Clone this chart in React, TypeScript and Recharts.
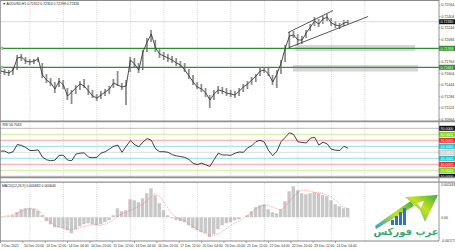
import {
  ComposedChart,
  Bar,
  Line,
  XAxis,
  YAxis,
  ReferenceLine,
  ReferenceArea,
  ReferenceDot,
} from 'recharts'

// hour index of each sampled bar (every 3rd H1 bar)
const hours = [
  0, 3, 6, 9, 12, 15, 18, 21, 24, 27, 30, 33, 36, 39, 42, 45, 48, 51, 54, 57, 60, 63, 66, 69, 72, 75, 78, 81,
  84, 87, 90, 93, 96, 99, 102, 105, 108, 111, 114, 117, 120, 123, 126, 129, 132, 135, 138, 141, 144, 147, 150,
  153, 156, 159, 162, 165, 168, 171, 174, 177, 180, 183, 186, 189, 192, 195, 198, 201, 204, 207, 210, 213, 216,
  219, 222, 225, 228, 231, 234, 237, 240, 243, 246, 249,
]

const highs = [
  0.71696, 0.71668, 0.71654, 0.71682, 0.71864, 0.71878, 0.71836, 0.71808, 0.71808, 0.71836,
  0.71752, 0.71598, 0.71542, 0.71486, 0.71542, 0.71514, 0.71402, 0.71374, 0.71444, 0.715,
  0.71528, 0.71444, 0.71374, 0.71318, 0.7136, 0.71388, 0.7143, 0.71528, 0.7164, 0.71472,
  0.71514, 0.71836, 0.71822, 0.71752, 0.71934, 0.72102, 0.72214, 0.72074, 0.71962, 0.71906,
  0.71878, 0.7185, 0.71822, 0.7178, 0.71752, 0.71668, 0.71584, 0.71486, 0.71458, 0.71402,
  0.71304, 0.71374, 0.7143, 0.71416, 0.71402, 0.71374, 0.7136, 0.71402, 0.71458, 0.715,
  0.71556, 0.71598, 0.71682, 0.71696, 0.71682, 0.71584, 0.71654, 0.71794, 0.72004, 0.72186,
  0.722, 0.72158, 0.7213, 0.72214, 0.72298, 0.72396, 0.72368, 0.7241, 0.72438, 0.72382,
  0.7234, 0.72312, 0.72354, 0.72354,
]

const lows = [
  0.71598, 0.71584, 0.7157, 0.71584, 0.71654, 0.7178, 0.71738, 0.71724, 0.71738, 0.71766,
  0.71542, 0.71472, 0.7143, 0.71332, 0.71416, 0.71388, 0.71234, 0.71178, 0.71318, 0.71374,
  0.71402, 0.71304, 0.71262, 0.7122, 0.71248, 0.7129, 0.71318, 0.71402, 0.7143, 0.71374,
  0.71164, 0.71626, 0.71682, 0.71612, 0.71654, 0.71906, 0.72046, 0.71906, 0.71822, 0.71794,
  0.71766, 0.71752, 0.7171, 0.71682, 0.71626, 0.71528, 0.71444, 0.71388, 0.71346, 0.71276,
  0.71122, 0.71234, 0.71318, 0.71318, 0.7129, 0.71276, 0.71262, 0.7129, 0.71346, 0.71388,
  0.71444, 0.71486, 0.7157, 0.71612, 0.7157, 0.71444, 0.71402, 0.71598, 0.71766, 0.71962,
  0.72102, 0.72004, 0.72018, 0.72102, 0.722, 0.7227, 0.72256, 0.72298, 0.7234, 0.7227,
  0.72242, 0.72228, 0.7227, 0.72298,
]

const closes = [
  0.7164, 0.71626, 0.71612, 0.71654, 0.71822, 0.71836, 0.7178, 0.71766, 0.7178, 0.71808,
  0.71584, 0.71514, 0.71472, 0.71388, 0.715, 0.71444, 0.7129, 0.71346, 0.71402, 0.71458,
  0.7143, 0.7136, 0.7129, 0.71262, 0.71304, 0.71346, 0.71388, 0.71472, 0.71444, 0.71416,
  0.7143, 0.71794, 0.71738, 0.71654, 0.71906, 0.72046, 0.72158, 0.71962, 0.71878, 0.7185,
  0.71822, 0.71794, 0.71752, 0.71724, 0.71654, 0.7157, 0.71486, 0.71416, 0.71388, 0.71332,
  0.71234, 0.71318, 0.71374, 0.7136, 0.71332, 0.71318, 0.71304, 0.7136, 0.71416, 0.71458,
  0.71514, 0.7157, 0.7164, 0.71654, 0.71598, 0.71486, 0.71598, 0.71752, 0.71962, 0.7213,
  0.72144, 0.72074, 0.72074, 0.72172, 0.72256, 0.7234, 0.72298, 0.72368, 0.72396, 0.72312,
  0.72284, 0.7227, 0.72312, 0.72326,
]

const rsiValues = [
  52, 52, 48.5, 51, 63, 61.5, 58, 53, 53, 54,
  42, 37.5, 36, 37, 45, 45, 37, 36, 47, 48.5,
  49, 42, 41, 41.7, 48.5, 51, 55.5, 60, 62, 50,
  60, 69.5, 63, 59, 67, 73, 70, 56, 51, 51,
  50, 46, 44, 43, 41.5, 38, 31.5, 29.5, 32, 29,
  26.5, 38, 48.5, 45.5, 45.5, 45, 48.5, 50.5, 50, 57.5,
  61, 68, 70, 67, 53, 44.4, 52, 68, 75, 82.7,
  79.5, 67.5, 66.5, 65.5, 73.5, 75, 62, 67, 64, 55,
  53.5, 53, 60, 56.7,
]

const macdMain = [
  0.00004, 0.00005, 0.00008, 0.00015, 0.00038, 0.00061, 0.00068, 0.00068, 0.00064, 0.00049,
  0.00015, -0.0003, -0.00053, -0.00076, -0.00076, -0.00083, -0.00099, -0.00121, -0.00091, -0.00068,
  -0.00053, -0.00045, -0.00053, -0.00061, -0.00053, -0.00038, -0.00023, 0.00015, 0.00068, 0.00045,
  0.00053, 0.00136, 0.00129, 0.00114, 0.00144, 0.00182, 0.0022, 0.00167, 0.00106, 0.00053,
  0.00015, -0.00008, -0.00023, -0.0003, -0.00038, -0.00061, -0.00083, -0.00099, -0.00114, -0.00121,
  -0.00152, -0.00129, -0.00091, -0.00061, -0.00045, -0.00038, -0.00023, -0.00015, 0, 0.00015,
  0.00045, 0.00076, 0.00091, 0.00099, 0.00061, 0.00038, 0.0003, 0.00061, 0.00121, 0.00197,
  0.00235, 0.00205, 0.00182, 0.00174, 0.00182, 0.0019, 0.00182, 0.00167, 0.00159, 0.00129,
  0.00099, 0.00083, 0.00068, 0.00068,
]

const macdSignal = [
  0, 0.00008, 0.00015, 0.00023, 0.00034, 0.00045, 0.00061, 0.00068, 0.00064, 0.00053,
  0.00023, -0.00008, -0.00038, -0.00061, -0.00076, -0.00083, -0.00091, -0.00095, -0.00091, -0.00076,
  -0.00068, -0.00061, -0.00053, -0.00057, -0.00061, -0.00053, -0.00038, -0.00019, 0.00008, 0.00027,
  0.00038, 0.00053, 0.00068, 0.00083, 0.00099, 0.00129, 0.00159, 0.00182, 0.00159, 0.00114,
  0.00068, 0.00023, 0, -0.00015, -0.00027, -0.00049, -0.00072, -0.00091, -0.00106, -0.00125,
  -0.00136, -0.00136, -0.00125, -0.00106, -0.00083, -0.00061, -0.00042, -0.00027, -0.00008, 0.00015,
  0.00038, 0.00068, 0.00083, 0.00091, 0.00091, 0.00076, 0.00064, 0.00057, 0.00083, 0.00121,
  0.00159, 0.0019, 0.00205, 0.00205, 0.00197, 0.0019, 0.00186, 0.00182, 0.00167, 0.00155,
  0.00129, 0.00099, 0.00076, 0.00064,
]

// axis labels
const timeLabelHours = [0, 16, 32, 48, 64, 80, 96, 112, 128, 144, 160, 176, 192, 208, 224, 240]
const timeLabels = [
  '9 Dec 2021', '10 Dec 20:00', '13 Dec 12:00', '14 Dec 04:00', '14 Dec 20:00', '15 Dec 12:00',
  '16 Dec 04:00', '16 Dec 20:00', '17 Dec 12:00', '20 Dec 04:00', '20 Dec 20:00', '21 Dec 12:00',
  '22 Dec 04:00', '22 Dec 20:00', '23 Dec 12:00', '24 Dec 04:00',
]
const gridHours = [21, 45, 69, 93, 117, 141, 165, 189, 213, 237, 261]
const priceTicks = [0.72564, 0.72404, 0.72244, 0.72084, 0.71764, 0.71604, 0.71444, 0.71284, 0.71124, 0.70964]
const macdTicks = [0.00245, 0, -0.00177]
const macdTickLabels = ['0.002448', '0.00', '-0.001774']
const rsiLevels = [90, 80, 70, 60, 50, 40, 30, 20, 10]

// objects drawn on the price chart
const bidPrice = 0.7233
const levelPrices = [0.71958, 0.71692]
const zoneHours = [[211, 297], [209.5, 299]]
const zonePrices = [[0.7192, 0.72004], [0.71633, 0.71724]]
const channelHours = [[206, 238.2], [206.7, 263.3]]
const channelPrices = [[0.72179, 0.72487], [0.71969, 0.72403]]

const X_DOMAIN: [number, number] = [-0.4, 314.1]
const W = 455
const AXIS_W = 16
const FONT = 'Liberation Sans, Arial, sans-serif'
const GRID = '#a2a2a2'

const rsiLineColor: Record<number, string> = {
  90: '#a8a8a8', 80: '#cfef94', 70: '#ffa0a0', 60: '#93e2e8', 50: '#dddddd',
  40: '#93e2e8', 30: '#ffa0a0', 20: '#cfef94', 10: '#a8a8a8',
}
const rsiTagColor: Record<number, string> = {
  90: '#111111', 80: '#7ed321', 70: '#f52a2a', 60: '#1fc4cf', 50: '#cfcfcf',
  40: '#1fc4cf', 30: '#f52a2a', 20: '#7ed321', 10: '#111111',
}

const priceRows = hours.map((t, i) => ({ t, range: [lows[i], highs[i]], close: closes[i] }))
const rsiRows = hours.map((t, i) => ({ t, rsi: rsiValues[i] }))
const macdRows = hours.map((t, i) => ({ t, main: macdMain[i], signal: macdSignal[i] }))

function PriceTick(props: any) {
  const { x, y, payload } = props
  return (
    <g>
      <line x1={x} x2={x + 1.5} y1={y} y2={y} stroke='#666' strokeWidth={0.5} />
      <text x={x + 2.2} y={y + 1.3} fontSize={3.6} fontFamily={FONT} fill='#333'>
        {Number(payload.value).toFixed(5)}
      </text>
    </g>
  )
}

function MacdTick(props: any) {
  const { x, y, payload } = props
  const i = macdTicks.indexOf(payload.value)
  return (
    <text x={x + 2.2} y={y + 1.3} fontSize={3.4} fontFamily={FONT} fill='#333'>
      {macdTickLabels[i]}
    </text>
  )
}

function TimeTick(props: any) {
  const { x, y, payload } = props
  const i = timeLabelHours.indexOf(payload.value)
  return (
    <g>
      <line x1={x} x2={x} y1={y} y2={y + 2} stroke='#555' strokeWidth={0.5} />
      <text x={x + 1} y={y + 5.6} fontSize={3.4} fontFamily={FONT} fill='#333'>
        {timeLabels[i]}
      </text>
    </g>
  )
}

function Tag(props: any) {
  const { viewBox, text, bg, fg = '#fff' } = props
  if (!viewBox) return null
  const x = viewBox.x + viewBox.width
  const y = viewBox.y
  return (
    <g>
      <rect x={x} y={y - 2.5} width={AXIS_W} height={5} fill={bg} />
      <text x={x + 1.6} y={y + 1.3} fontSize={3.5} fontFamily={FONT} fill={fg}>
        {text}
      </text>
    </g>
  )
}

function gridLines(prefix: string) {
  return gridHours.map((h) => (
    <ReferenceLine key={prefix + h} x={h} stroke={GRID} strokeWidth={0.5} strokeDasharray='1 1.2' />
  ))
}

function PriceChart() {
  return (
    <ComposedChart width={W} height={122} data={priceRows} margin={{ top: 1, right: 0, bottom: 1, left: 0 }}>
      <XAxis type='number' dataKey='t' domain={X_DOMAIN} allowDataOverflow hide />
      <YAxis
        orientation='right'
        width={AXIS_W}
        domain={[0.7094, 0.7262]}
        allowDataOverflow
        ticks={priceTicks}
        interval={0}
        axisLine={false}
        tickLine={false}
        tickSize={0}
        tickMargin={0}
        tick={<PriceTick />}
      />
      {gridLines('p')}
      {zoneHours.map((z, i) => (
        <ReferenceArea
          key={'z' + i}
          x1={z[0]}
          x2={z[1]}
          y1={zonePrices[i][0]}
          y2={zonePrices[i][1]}
          fill='#d6d6d6'
          fillOpacity={1}
          stroke='none'
        />
      ))}
      <ReferenceLine
        y={bidPrice}
        stroke='#c8c8c8'
        strokeWidth={0.7}
        label={<Tag text={bidPrice.toFixed(5)} bg='#111' />}
      />
      {levelPrices.map((p) => (
        <ReferenceLine
          key={'l' + p}
          y={p}
          stroke='#2f8f2f'
          strokeWidth={1.2}
          label={<Tag text={p.toFixed(5)} bg='#2f8f2f' />}
        />
      ))}
      {levelPrices.map((p) => (
        <ReferenceDot key={'d' + p} x={1} y={p} r={1.1} fill='#fff' stroke='#2f8f2f' strokeWidth={0.6} />
      ))}
      <Bar dataKey='range' barSize={1.8} fill='#8e8e8e' isAnimationActive={false} />
      <Line
        dataKey='close'
        stroke='#3a3a3a'
        strokeWidth={0.9}
        dot={false}
        isAnimationActive={false}
        type='linear'
      />
      {channelHours.map((c, i) => (
        <ReferenceLine
          key={'c' + i}
          segment={[
            { x: c[0], y: channelPrices[i][0] },
            { x: c[1], y: channelPrices[i][1] },
          ]}
          stroke='#111'
          strokeWidth={0.7}
        />
      ))}
    </ComposedChart>
  )
}

function RsiChart() {
  return (
    <ComposedChart width={W} height={56} data={rsiRows} margin={{ top: 0.5, right: 0, bottom: 0.5, left: 0 }}>
      <XAxis type='number' dataKey='t' domain={X_DOMAIN} allowDataOverflow hide />
      <YAxis orientation='right' width={AXIS_W} domain={[8, 99.67]} allowDataOverflow tick={false} axisLine={false} />
      {gridLines('r')}
      {rsiLevels.map((lv) => (
        <ReferenceLine
          key={'lv' + lv}
          y={lv}
          stroke={rsiLineColor[lv]}
          strokeWidth={lv === 90 || lv === 10 ? 0.8 : 1}
          label={<Tag text={lv.toFixed(4)} bg={rsiTagColor[lv]} />}
        />
      ))}
      <Line dataKey='rsi' stroke='#111' strokeWidth={0.8} dot={false} isAnimationActive={false} type='linear' />
    </ComposedChart>
  )
}

function MacdChart() {
  return (
    <ComposedChart width={W} height={68} data={macdRows} margin={{ top: 0.5, right: 0, bottom: 0, left: 0 }}>
      <XAxis
        type='number'
        dataKey='t'
        domain={X_DOMAIN}
        allowDataOverflow
        height={9}
        ticks={timeLabelHours}
        interval={0}
        axisLine={false}
        tickLine={false}
        tickSize={0}
        tickMargin={0}
        tick={<TimeTick />}
      />
      <YAxis
        orientation='right'
        width={AXIS_W}
        domain={[-0.001796, 0.002638]}
        allowDataOverflow
        ticks={macdTicks}
        interval={0}
        axisLine={false}
        tickLine={false}
        tickSize={0}
        tickMargin={0}
        tick={<MacdTick />}
      />
      {gridLines('m')}
      <Bar dataKey='main' barSize={3.4} fill='#c8c8c8' isAnimationActive={false} />
      <Line
        dataKey='signal'
        stroke='#ff6060'
        strokeWidth={0.6}
        strokeDasharray='1 1'
        dot={false}
        isAnimationActive={false}
        type='linear'
      />
    </ComposedChart>
  )
}

function Overlay() {
  return (
    <svg width={W} height={250} style={{ position: 'absolute', left: 0, top: 0, pointerEvents: 'none' }}>
      <defs>
        <linearGradient id='arrowGrad' x1='0' y1='1' x2='1' y2='0'>
          <stop offset='0' stopColor='#2a9fd6' />
          <stop offset='0.55' stopColor='#c6e31a' />
          <stop offset='1' stopColor='#3aaa4a' />
        </linearGradient>
        <linearGradient id='textGrad' x1='0' y1='0' x2='0' y2='1'>
          <stop offset='0' stopColor='#6cc04a' />
          <stop offset='1' stopColor='#1f9a8a' />
        </linearGradient>
      </defs>
      {/* panel frames */}
      <line x1={0} x2={439} y1={0.5} y2={0.5} stroke='#8c8c8c' strokeWidth={1} />
      <line x1={0.5} x2={0.5} y1={0} y2={241} stroke='#8c8c8c' strokeWidth={0.8} />
      <line x1={439} x2={439} y1={0} y2={241} stroke='#7a7a7a' strokeWidth={0.8} />
      <line x1={0} x2={W} y1={121.3} y2={121.3} stroke='#8f8f8f' strokeWidth={1.8} />
      <line x1={0} x2={W} y1={177.5} y2={177.5} stroke='#8f8f8f' strokeWidth={1.3} />
      <line x1={0} x2={W} y1={182.2} y2={182.2} stroke='#8f8f8f' strokeWidth={1.3} />
      <line x1={0} x2={439} y1={241} y2={241} stroke='#6a6a6a' strokeWidth={0.8} />
      {/* window captions */}
      <text x={2.5} y={4.6} fontSize={3.4} fontFamily={FONT} fill='#222'>
        ▼ AUDUSD,H1  0.72312 0.72354 0.72298 0.72326
      </text>
      <text x={2.5} y={126.2} fontSize={3.4} fontFamily={FONT} fill='#222'>
        RSI 56.7043
      </text>
      <text x={2} y={187} fontSize={3.4} fontFamily={FONT} fill='#222'>
        MACD(12,26,9) 0.000682 0.000644
      </text>
      {/* watermark */}
      <path
        d='M376 229 Q396 217 414 206 L411 201 Q394 212 375 226 Z'
        fill='url(#arrowGrad)'
      />
      <polygon points='405,197 438,195 425,222 420,210' fill='url(#arrowGrad)' />
      <polygon points='417,203 424,201 421,208' fill='#ffffff' />
      <rect x={391} y={220} width={3} height={5} fill='#2b78bf' />
      <rect x={395} y={216} width={3} height={9} fill='#2b78bf' />
      <rect x={399} y={212} width={3} height={13} fill='#2b78bf' />
      <rect x={403} y={208} width={3} height={17} fill='#2b78bf' />
      <text
        x={406}
        y={235}
        fontSize={10}
        fontWeight='bold'
        textAnchor='middle'
        fontFamily='DejaVu Sans, sans-serif'
        fill='url(#textGrad)'
      >
        عرب فوركس
      </text>
    </svg>
  )
}

export default function App() {
  return (
    <div style={{ position: 'fixed', left: 0, top: 0, width: W, height: 250, background: '#fff', overflow: 'hidden' }}>
      <div style={{ position: 'absolute', left: 0, top: 0 }}>
        <PriceChart />
      </div>
      <div style={{ position: 'absolute', left: 0, top: 122 }}>
        <RsiChart />
      </div>
      <div style={{ position: 'absolute', left: 0, top: 182 }}>
        <MacdChart />
      </div>
      <Overlay />
    </div>
  )
}
